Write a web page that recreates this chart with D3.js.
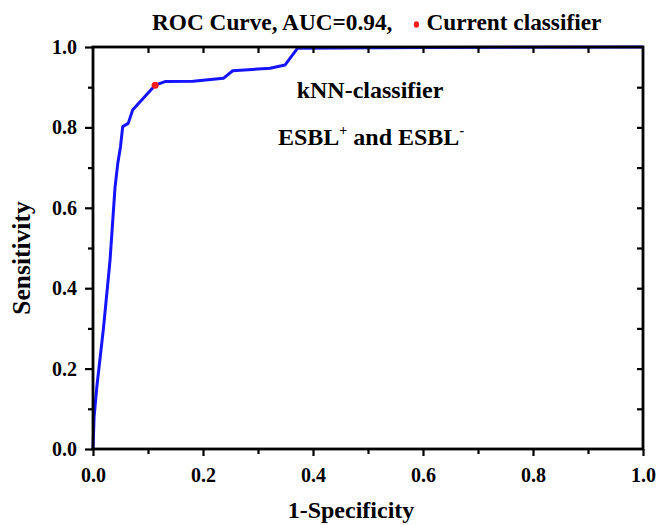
<!DOCTYPE html>
<html><head><meta charset="utf-8">
<script src="https://cdn.jsdelivr.net/npm/d3@7"></script>
<style>body{margin:0;background:#fff}svg{display:block}</style>
</head><body>
<svg id="c" width="656" height="525"></svg>
<script>
const fpr = [0, 0.002, 0.007, 0.019, 0.031, 0.040, 0.045, 0.050, 0.054, 0.064, 0.072, 0.113, 0.131, 0.182, 0.237, 0.254, 0.322, 0.349, 0.372, 0.6, 1.0];
const tpr = [0, 0.08, 0.155, 0.30, 0.47, 0.65, 0.71, 0.752, 0.802, 0.810, 0.843, 0.905, 0.914, 0.915, 0.922, 0.941, 0.947, 0.955, 0.997, 0.999, 1.0];
const currentPoint = [0.113, 0.905];
const xTicks = [0, 0.2, 0.4, 0.6, 0.8, 1.0];
const yTicks = [0, 0.2, 0.4, 0.6, 0.8, 1.0];
const minorTicks = [0.1, 0.3, 0.5, 0.7, 0.9];
const allTicks = [0.1, 0.2, 0.3, 0.4, 0.5, 0.6, 0.7, 0.8, 0.9];

(function () {
const svg = d3.select("#c");
const font = "'Liberation Serif','Times New Roman',serif";
const L = 93, R = 643, T = 47, B = 449;
const x = d3.scaleLinear().domain([0, 1]).range([L, R]);
const y = d3.scaleLinear().domain([0, 1]).range([B, T]);

// Curve
const data = fpr.map((f, i) => [f, tpr[i]]);
svg.append("path").datum(data)
  .attr("d", d3.line().x(d => x(d[0])).y(d => y(d[1])))
  .attr("fill", "none").attr("stroke", "#1414ff").attr("stroke-width", 3)
  .attr("stroke-linejoin", "round");

svg.append("circle").attr("cx", x(currentPoint[0])).attr("cy", y(currentPoint[1]))
  .attr("r", 3.5).attr("fill", "#ff1a1a");

// Axes
const gBottom = svg.append("g").attr("transform", `translate(0,${B})`)
  .call(d3.axisBottom(x).tickValues(xTicks).tickFormat(d3.format(".1f")).tickSize(7).tickPadding(12));
const gLeft = svg.append("g").attr("transform", `translate(${L},0)`)
  .call(d3.axisLeft(y).tickValues(yTicks).tickFormat(d3.format(".1f")).tickSize(8).tickPadding(8));
const gBottomMinor = svg.append("g").attr("transform", `translate(0,${B})`)
  .call(d3.axisBottom(x).tickValues(minorTicks).tickFormat("").tickSize(5));
const gLeftMinor = svg.append("g").attr("transform", `translate(${L},0)`)
  .call(d3.axisLeft(y).tickValues(minorTicks).tickFormat("").tickSize(5));
const gTop = svg.append("g").attr("transform", `translate(0,${T})`)
  .call(d3.axisBottom(x).tickValues(allTicks).tickFormat("").tickSize(6));
const gRight = svg.append("g").attr("transform", `translate(${R},0)`)
  .call(d3.axisLeft(y).tickValues(allTicks).tickFormat("").tickSize(6));
[gBottom, gLeft, gBottomMinor, gLeftMinor, gTop, gRight].forEach(g => {
  g.select(".domain").remove();
  g.selectAll("line").attr("stroke", "#000").attr("stroke-width", 2.2);
  g.selectAll("text").attr("fill", "#000").attr("font-family", font)
    .attr("font-weight", "bold").attr("font-size", 20);
});
// Frame
svg.append("rect").attr("x", L).attr("y", T).attr("width", R - L).attr("height", B - T)
  .attr("fill", "none").attr("stroke", "#000").attr("stroke-width", 2.8);

// Axis titles
svg.append("text").attr("x", 351).attr("y", 518).attr("text-anchor", "middle")
  .attr("font-family", font).attr("font-weight", "bold").attr("font-size", 24).text("1-Specificity");
svg.append("text").attr("transform", `translate(30,258) rotate(-90)`).attr("text-anchor", "middle")
  .attr("font-family", font).attr("font-weight", "bold").attr("font-size", 25.5).text("Sensitivity");

// Title
const tx = 152;
const t1 = svg.append("text").attr("x", tx).attr("y", 30)
  .attr("font-family", font).attr("font-weight", "bold").attr("font-size", 23.3).text("ROC Curve, AUC=0.94,");
const w1 = t1.node().getComputedTextLength();
svg.append("ellipse").attr("cx", tx + w1 + 24).attr("cy", 24.5).attr("rx", 2.6).attr("ry", 3.2).attr("fill", "#ff1a1a");
svg.append("text").attr("x", tx + w1 + 34).attr("y", 30)
  .attr("font-family", font).attr("font-weight", "bold").attr("font-size", 23.3).text("Current classifier");

// Annotations
svg.append("text").attr("x", 370).attr("y", 98).attr("text-anchor", "middle")
  .attr("font-family", font).attr("font-weight", "bold").attr("font-size", 24).text("kNN-classifier");
const e = svg.append("text").attr("x", 371).attr("y", 145).attr("text-anchor", "middle")
  .attr("font-family", font).attr("font-weight", "bold").attr("font-size", 24);
e.append("tspan").text("ESBL");
e.append("tspan").attr("dy", -10).attr("font-size", 14).text("+");
e.append("tspan").attr("dy", 10).text(" and ESBL");
e.append("tspan").attr("dy", -10).attr("font-size", 14).text("-");
})();
</script>
</body></html>
